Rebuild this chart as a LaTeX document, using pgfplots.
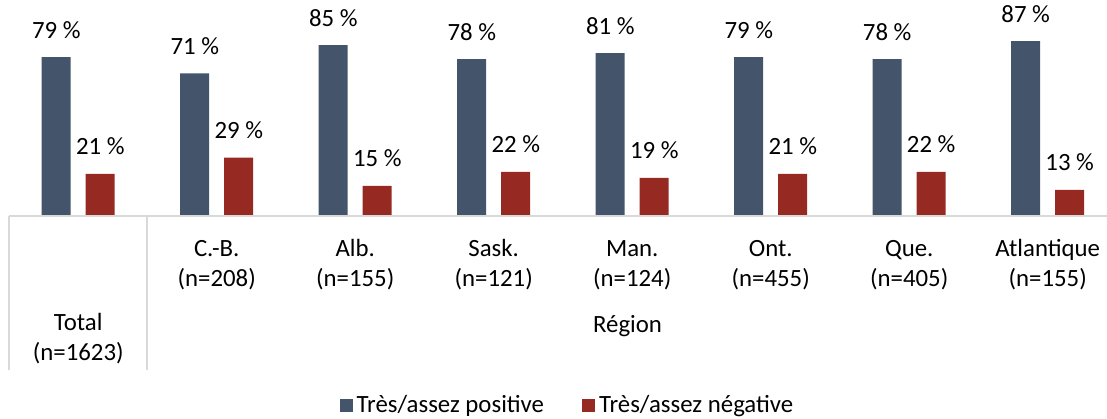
\documentclass[border=0pt]{standalone}
\usepackage{pgfplots}
\pgfplotsset{compat=1.18}
\usepackage{fontspec}
\setmainfont{Carlito}
\definecolor{cblue}{HTML}{44546A}
\definecolor{cred}{HTML}{962A22}
\definecolor{cgrid}{HTML}{D9D9D9}
\newcommand{\lblfont}{\fontsize{12.4}{15}\selectfont}
\begin{document}
\begin{tikzpicture}
\begin{axis}[
  scale only axis, width=549pt, height=108pt,
  xmin=-0.5, xmax=7.428, ymin=0, ymax=107.46,
  axis line style={draw=none},
  ytick=\empty,
  major tick length=0pt,
  ybar, bar width=14.5pt,
  xtick={1,...,7},
  xticklabels={{C.-B.\\(n=208)},{Alb.\\(n=155)},{Sask.\\(n=121)},{Man.\\(n=124)},{Ont.\\(n=455)},{Que.\\(n=405)},{Atlantique\\(n=155)}},
  xticklabel style={align=center, anchor=base, yshift=-35pt, inner sep=0pt, font=\lblfont},
  extra x ticks={0},
  extra x tick labels={{Total\\(n=1623)}},
  extra x tick style={xticklabel style={yshift=-37pt}},
  nodes near coords={\pgfmathprintnumber{\pgfplotspointmeta}\ \%},
  every node near coord/.append style={anchor=base, inner sep=0pt, yshift=9.5pt, font=\lblfont, text=black},
  /pgf/number format/assume math mode=true,
  clip=false,
  legend columns=2,
  legend style={at={(0.5095,-0.875)}, anchor=center, draw=none, font=\lblfont,
    /tikz/every even column/.append style={column sep=17pt}},
  legend image code/.code={\fill[#1] (0pt,-3.25pt) rectangle (6.5pt,3.25pt);},
]
\addplot[fill=cblue, draw=none, bar shift=-11pt] coordinates {(0,79) (1,71) (2,85) (3,78) (4,81) (5,79) (6,78) (7,87)};
\addplot[fill=cred, draw=none, bar shift=11pt] coordinates {(0,21) (1,29) (2,15) (3,22) (4,19) (5,21) (6,22) (7,13)};
\legend{Très/assez positive, Très/assez négative}
\draw[cgrid, line width=1pt] (rel axis cs:0,0) -- (rel axis cs:1,0);
\draw[cgrid, line width=1pt] (axis cs:-0.5,0) -- ([yshift=-77pt]axis cs:-0.5,0);
\draw[cgrid, line width=1pt] (axis cs:0.5,0) -- ([yshift=-77pt]axis cs:0.5,0);
\node[anchor=base, font=\lblfont, inner sep=0pt] at (axis cs:3.966,0) [yshift=-58pt] {Région};
\end{axis}
\pgfresetboundingbox
\path[use as bounding box] ([xshift=-4.5pt,yshift=-101.5pt]current axis.south west) rectangle (current axis.north east);
\end{tikzpicture}
\end{document}
